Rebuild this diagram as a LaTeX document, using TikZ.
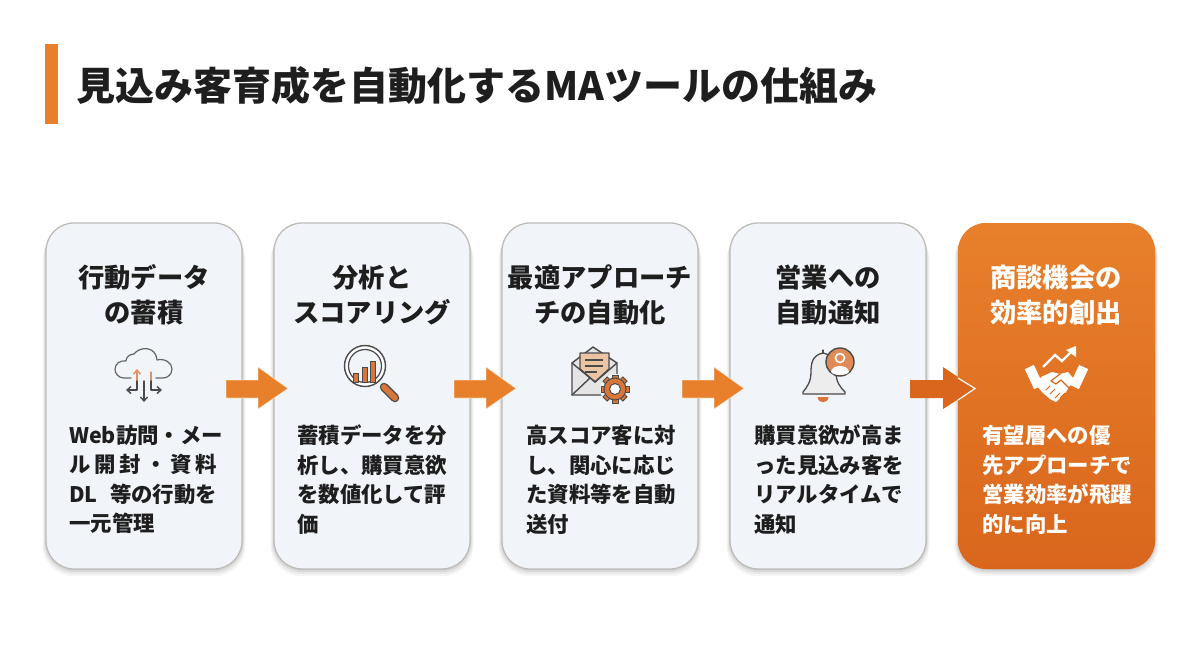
\documentclass[tikz,border=0pt]{standalone}
\usepackage{fontspec}
\setmainfont{Noto Sans CJK JP}
\usetikzlibrary{calc,arrows.meta}
\definecolor{accent}{HTML}{E8802B}
\definecolor{accentdk}{HTML}{D9661C}
\definecolor{ink}{HTML}{1E1E1E}
\definecolor{cardfill}{HTML}{F1F5F9}
\definecolor{cardline}{HTML}{BEBDB7}
\definecolor{iconline}{HTML}{4A4A4A}
\definecolor{iconor}{HTML}{D9773A}
\definecolor{iconlt}{HTML}{EBC4A4}
\tikzset{
  cardbox/.style={rounded corners=28pt,minimum width=196pt,minimum height=346pt,inner sep=0pt,draw=cardline,line width=1.3pt,fill=cardfill},
  cardhead/.style={align=center,inner sep=0pt,text=ink,font=\fontsize{26.3}{35}\selectfont\bfseries},
  cardbody/.style={anchor=north west,align=left,inner sep=0pt,text=ink,text width=156pt,font=\fontsize{21.4}{29.5}\selectfont\bfseries},
  flow/.style={fill=accent,draw=white,draw opacity=.55,line width=.8pt},
  ic/.style={draw=iconline,line width=1.4pt,line join=round,line cap=round},
  ica/.style={ic,-{Straight Barb[length=4pt,width=7pt]}},
}
\newcommand{\cardshadow}[2]{%
  \foreach \d/\o in {7/.035,5/.05,3/.07,1/.09}{
    \fill[black,opacity=\o,rounded corners=30pt] (#1-\d*.5,223+\d) rectangle (#2+\d*.5,569+\d);
  }}
\newcommand{\spreadline}[1]{\makebox[148pt][s]{#1}}
\begin{document}
\begin{tikzpicture}[x=1pt,y=-1pt]
\useasboundingbox (0,0) rectangle (1200,670);
\fill[white] (0,0) rectangle (1200,670);
% title
\fill[accent] (45,44) rectangle (58,124);
\node[anchor=west,inner sep=0pt,text=ink,font=\fontsize{39}{45}\selectfont\bfseries] (title) at (76.5,86) {見込み客育成を自動化するMAツールの仕組み};
% shadows
\cardshadow{46}{242}\cardshadow{274}{470}\cardshadow{502}{698}\cardshadow{730}{926}\cardshadow{958}{1155}
% cards
\node[cardbox] (c1) at (144,396) {};
\node[cardbox] (c2) at (372,396) {};
\node[cardbox] (c3) at (600,396) {};
\node[cardbox] (c4) at (828,396) {};
\node[cardbox,minimum width=197pt,draw=none,left color=accent,right color=accentdk,shading angle=0] (c5) at (1056.5,396) {};
\shade[rounded corners=28pt,top color=accent,bottom color=accentdk,opacity=.55] (958,223) rectangle (1155,569);
% headings
\node[cardhead] (h1) at (144,295) {行動データ\\の蓄積};
\node[cardhead] (h2) at (372,295) {分析と\\スコアリング};
\node[cardhead] (h3) at (600,295) {最適アプローチ\\チの自動化};
\node[cardhead] (h4) at (828,295) {営業への\\自動通知};
\node[cardhead,text=white] (h5) at (1056,295) {商談機会の\\効率的創出};
% bodies
\node[cardbody] (b1) at (69,425) {\spreadline{Web訪問・メー}\\\spreadline{ル\hfil 開\hfil 封\hfil ・\hfil 資\hfil 料}\\\spreadline{DL\hfil 等の行動を}\\一元管理};
\node[cardbody] (b2) at (297,425) {蓄積データを分\\析し、購買意欲\\を数値化して評\\価};
\node[cardbody] (b3) at (526,425) {高スコア客に対\\し、関心に応じ\\た資料等を自動\\送付};
\node[cardbody] (b4) at (754,425) {購買意欲が高ま\\った見込み客を\\リアルタイムで\\通知};
\node[cardbody,text=white] (b5) at (982,425) {有望層への優\\先アプローチで\\営業効率が飛躍\\的に向上};
% flow arrows
\foreach \x in {226,454,682}{
  \path[flow] (\x,380) -- (\x+32,380) -- (\x+32,367) -- (\x+62,388.5) -- (\x+32,409) -- (\x+32,398) -- (\x,398) -- cycle;
}
\path[fill=accentdk] (910,380) -- (943,380) -- (943,367) -- (975,388.5) -- (943,409) -- (943,398) -- (910,398) -- cycle;
\draw[white,line width=1.2pt,line join=miter] (958,378) -- (975,388.5) -- (958,400);
% icon 1: cloud
\draw[ic,line width=1.2pt,draw=iconline!85] (131,378) -- (124,378) .. controls (118,378) and (115,373) .. (115,369) .. controls (115,364) and (120,360) .. (126,361) .. controls (126,357) and (130,354) .. (134,354) .. controls (140,346) and (156,346) .. (157,360) .. controls (165,358) and (172,363) .. (172,369) .. controls (172,374) and (168,378) .. (163,378) -- (156,378);
\draw[ica,draw=iconor!80] (137,381) -- (137,369);
\draw[ica] (137,381) -- (137,390) -- (126,390);
\draw[ic,draw=iconor!80,line width=1.2pt] (151,372) -- (151,381);
\draw[ica] (151,381) -- (151,390) -- (162,390);
\draw[ica] (144,381) -- (144,402);
% icon 2: magnifier
\draw[iconline,line width=8.5pt,line cap=round] (384,387) -- (395,398);
\draw[iconor,line width=5.8pt,line cap=round] (384,387) -- (395,398);
\draw[iconline,line width=1.4pt,fill=white] (365,366) circle (20.5);
\draw[iconline,line width=1.2pt,fill=cardfill] (365,366) circle (16.5);
\fill[iconor] (353,373) rectangle (358,382) (362,367) rectangle (367,382) (370.5,361) rectangle (375.5,382);
\draw[iconline,line width=.8pt] (353,373) rectangle (358,382) (362,367) rectangle (367,382) (370.5,361) rectangle (375.5,382);
% icon 3: mail and gear
\draw[ic,fill=white!90!black] (572,363) -- (593,347) -- (617,363) -- (617,395) -- (572,395) -- cycle;
\draw[ic,fill=iconlt] (580,355) -- (580,369) -- (595,382) -- (609,369) -- (609,353) -- (580,353) -- cycle;
\draw[iconline,line width=1.2pt] (585,360) -- (603,360) (585,366) -- (603,366) (585,372) -- (597,372);
\draw[ic] (572,363) -- (595,382) -- (617,363) (572,395) -- (590,378);
\fill[cardfill] (615,389) circle (15);
\foreach \a in {0,45,...,315}{
  \fill[iconor,rotate around={\a:(615,389)}] (612,374.5) rectangle (618,380);
  \draw[iconline,line width=.8pt,rotate around={\a:(615,389)}] (612,378) -- (612,375) -- (618,375) -- (618,378);
}
\draw[iconline,line width=1pt,fill=iconor] (615,389) circle (11);
\draw[iconline,line width=1pt,fill=white] (615,389) circle (5.5);
% icon 4: bell
\draw[ic,line width=1.3pt,fill=black!7] (823,353) .. controls (812,355) and (811,364) .. (811,372) .. controls (811,382) and (807,387) .. (803,392) -- (803,394) -- (845,394) -- (845,392) .. controls (840,387) and (836,382) .. (836,372) .. controls (836,364) and (834,355) .. (823,353) -- cycle;
\draw[ic,line width=1.2pt] (823,353) -- (823,350);
\fill[iconor] (817.5,397) .. controls (818,404) and (828,404) .. (828.5,397) -- cycle;
\draw[ic,fill=iconor!85!white] (840,362) circle (14);
\draw[white,line width=1.6pt,fill=iconor!85!white] (840,358) circle (4.5);
\fill[white] (831,372) .. controls (832,364) and (848,364) .. (849,372) .. controls (846,376) and (834,376) .. (831,372) -- cycle;
% icon 5: handshake with trend
\draw[white,line width=2.4pt,line join=miter] (1043,367) -- (1055,355) -- (1062,361) -- (1072,351);
\fill[white] (1066,350) -- (1076,346) -- (1076,357) -- cycle;
\fill[white,rotate around={25:(1034,377)}] (1029,366) rectangle (1039,388);
\fill[white,rotate around={-25:(1079,377)}] (1074,366) rectangle (1084,388);
\fill[white] (1041,377) -- (1052,372) -- (1060,374) -- (1068,372) -- (1074,379) -- (1066,392) -- (1056,402) -- (1050,399) -- (1042,392) -- (1037,386) -- cycle;
\draw[accentdk,line width=1.2pt,line cap=round,line join=round] (1060,374) -- (1051,381) -- (1056,384) -- (1061,380) -- (1070,389);
\draw[accentdk,line width=1pt,line cap=round] (1046,390) -- (1050,386) (1050,394) -- (1055,389) (1055,398) -- (1060,393) (1060,398) -- (1065,393);
\end{tikzpicture}
\end{document}
